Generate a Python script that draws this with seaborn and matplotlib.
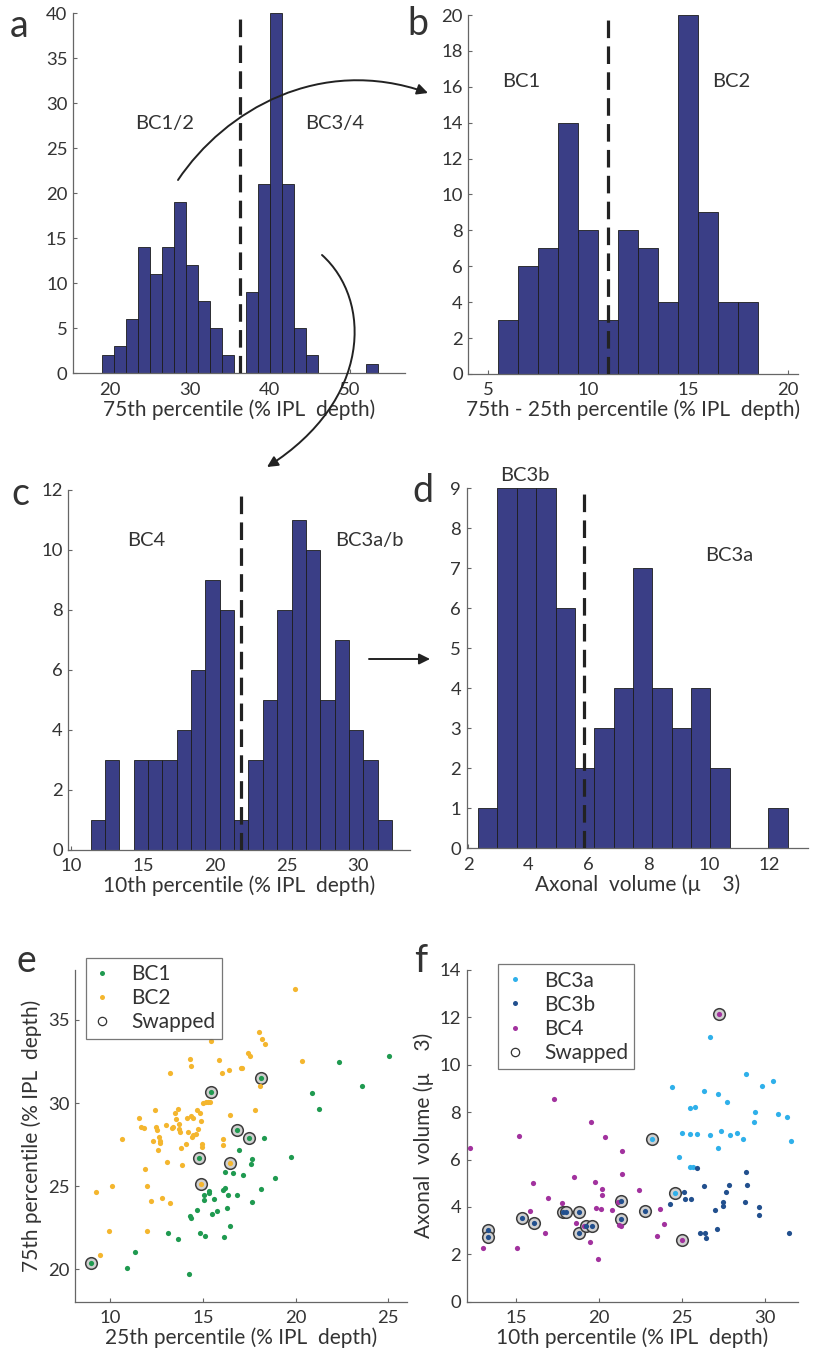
import numpy as np
import pandas as pd
import matplotlib.pyplot as plt
import seaborn as sns
from matplotlib.patches import FancyArrowPatch
from matplotlib.path import Path
from matplotlib.lines import Line2D

sns.set_style('ticks')
plt.rcParams['font.family'] = ['Lato', 'DejaVu Sans']
plt.rcParams['xtick.direction'] = 'in'
plt.rcParams['ytick.direction'] = 'in'

# ---- histogram data (counts per bin) ----
a_start, a_width = 19.08, 1.5
a_counts = [2, 3, 6, 14, 11, 14, 19, 12, 8, 5, 2, 0, 9, 21, 40, 21, 5, 2, 0, 0, 0, 0, 1]
a_split = 36.25

b_start, b_width = 5.5, 1.0
b_counts = [3, 6, 7, 14, 8, 3, 8, 7, 4, 20, 9, 4, 4]
b_split = 11.0

c_start, c_width = 11.35, 1.0
c_counts = [1, 3, 0, 3, 3, 3, 4, 6, 9, 8, 1, 3, 5, 8, 11, 10, 5, 7, 4, 3, 1]
c_split = 21.8

d_start, d_width = 2.33, 0.643
d_counts = [1, 9, 9, 9, 6, 2, 3, 4, 7, 4, 3, 4, 2, 0, 0, 1]
d_split = 5.85

# ---- scatter e: 25th vs 75th percentile ----
bc1_x = [25.05, 22.34, 23.56, 20.90, 21.26, 18.30, 19.75, 18.87, 18.16, 17.67, 17.62, 16.93,
         17.15, 16.65, 16.22, 16.18, 16.07, 16.34, 16.86, 15.77, 15.62, 15.51, 15.35, 15.34,
         15.05, 15.07, 14.67, 14.28, 14.35, 13.13, 13.66, 14.85, 15.10, 16.14, 16.47, 16.32,
         17.63, 11.33, 10.93, 14.24]
bc1_y = [32.85, 32.47, 31.01, 30.59, 29.62, 27.92, 26.74, 25.51, 24.81, 26.62, 26.34, 27.20,
         25.69, 25.77, 25.84, 24.91, 24.77, 24.45, 24.47, 23.53, 24.21, 23.31, 24.73, 24.61,
         24.45, 24.17, 23.57, 23.23, 23.11, 22.17, 21.84, 22.17, 22.01, 21.92, 22.63, 23.71,
         24.05, 21.02, 20.06, 19.72]
bc1_swap_x = [8.96, 14.81, 15.42, 16.83, 17.51, 18.12]
bc1_swap_y = [20.40, 26.72, 30.67, 28.40, 27.88, 31.53]

bc2_x = [19.97, 9.23, 9.43, 9.96, 10.11, 10.63, 11.53, 11.67, 11.80, 11.89, 12.01, 12.01,
         12.21, 12.32, 12.41, 12.46, 12.51, 12.60, 12.64, 12.66, 12.69, 12.82, 13.00, 13.07,
         13.22, 13.25, 13.32, 13.40, 13.48, 13.54, 13.68, 13.70, 13.72, 13.75, 13.81, 13.88,
         14.10, 14.13, 14.20, 14.31, 14.35, 14.37, 14.40, 14.44, 14.49, 14.62, 14.69, 14.74,
         14.85, 14.92, 14.96, 14.96, 15.03, 15.16, 15.28, 15.39, 15.44, 15.86, 16.02, 16.07,
         16.11, 16.43, 16.47, 17.04, 17.11, 17.45, 17.53, 17.80, 18.05, 18.19, 18.33, 18.08,
         20.33]
bc2_y = [36.88, 24.67, 20.86, 22.31, 25.03, 27.84, 29.12, 28.56, 28.48, 26.02, 25.03, 22.31,
         24.11, 27.70, 29.58, 28.58, 28.38, 27.18, 27.94, 27.58, 27.70, 24.31, 28.70, 26.46,
         31.79, 23.97, 28.48, 28.58, 29.38, 29.02, 29.65, 28.74, 28.42, 28.24, 27.32, 26.28,
         27.52, 29.08, 28.28, 32.63, 32.23, 29.22, 27.98, 28.08, 29.08, 28.12, 29.58, 28.42,
         29.38, 28.92, 27.56, 27.38, 29.99, 30.09, 30.09, 30.09, 33.70, 32.59, 31.79, 27.82,
         27.48, 31.99, 29.26, 32.09, 32.09, 33.03, 32.85, 29.60, 34.24, 33.84, 33.56, 31.03,
         32.55]
bc2_swap_x = [16.47, 14.89]
bc2_swap_y = [26.38, 25.13]

# ---- scatter f: 10th percentile vs axonal volume ----
bc3a_x = [26.65, 24.40, 26.31, 27.15, 28.86, 30.46, 29.82, 27.69, 25.48, 25.80, 29.42, 30.80,
          31.31, 29.30, 25.00, 25.44, 25.90, 26.65, 27.31, 27.91, 28.31, 28.69, 31.59, 27.15,
          24.80, 25.44, 25.64]
bc3a_y = [11.16, 9.08, 8.89, 8.75, 9.61, 9.33, 9.10, 8.44, 8.16, 8.23, 7.99, 7.91,
          7.81, 7.60, 7.11, 7.06, 7.06, 7.04, 7.20, 7.04, 7.11, 6.85, 6.78, 6.47,
          6.12, 5.70, 5.70]
bc3a_swap_x = [23.19, 24.54]
bc3a_swap_y = [6.87, 4.57]

bc3b_x = [25.88, 28.82, 26.31, 27.85, 28.90, 25.08, 27.65, 25.14, 25.56, 24.28, 27.45, 27.49,
          28.78, 26.99, 29.62, 29.62, 26.10, 26.35, 26.41, 27.11, 31.43]
bc3b_y = [5.63, 5.49, 4.88, 4.92, 4.92, 4.62, 4.62, 4.32, 4.32, 4.12, 4.22, 4.05,
          4.22, 3.87, 3.98, 3.66, 2.88, 2.88, 2.67, 3.05, 2.88]
bc3b_swap_x = [13.29, 13.29, 15.34, 16.06, 17.81, 18.01, 18.78, 18.78, 19.22, 19.54, 21.29,
               21.29, 22.77]
bc3b_swap_y = [3.03, 2.72, 3.52, 3.33, 3.80, 3.77, 3.80, 2.91, 3.19, 3.19, 4.26, 3.50, 3.83]

bc4_x = [12.23, 17.25, 19.52, 15.14, 20.32, 21.39, 21.39, 18.47, 16.00, 19.74, 20.18, 22.39,
         16.89, 20.18, 15.84, 17.77, 21.12, 19.82, 20.12, 20.78, 23.69, 18.61, 19.06, 21.20,
         21.31, 23.88, 16.75, 23.45, 19.44, 12.97, 15.04, 19.94]
bc4_y = [6.50, 8.57, 7.57, 7.01, 6.94, 6.37, 5.37, 5.25, 5.02, 5.05, 4.74, 4.71,
         4.36, 4.50, 3.84, 4.15, 4.22, 3.94, 3.91, 3.87, 3.91, 3.33, 3.19, 3.24,
         3.19, 3.26, 2.88, 2.79, 2.53, 2.25, 2.25, 1.79]
bc4_swap_x = [27.21, 24.96]
bc4_swap_y = [12.14, 2.60]

# ---- colours ----
bar_color = '#3a3e86'
green = '#1f9a50'
orange = '#f4b62e'
light_blue = '#2fb0ea'
dark_blue = '#22508e'
magenta = '#a2329e'
txt = '#333333'

TICK_FS = 13.3
LABEL_FS = 15
NOTE_FS = 14.5
LEG_FS = 15

fig = plt.figure(figsize=(8.2, 13.53), dpi=100)


def style(ax):
    sns.despine(ax=ax)
    for s in ['left', 'bottom']:
        ax.spines[s].set_color('#666666')
        ax.spines[s].set_linewidth(0.9)
    ax.tick_params(length=3, width=0.8, color='#666666', labelsize=TICK_FS, labelcolor=txt)
    ax.tick_params(axis='x', pad=6)
    ax.tick_params(axis='y', pad=4)
    ax.set_facecolor('none')


def hist_panel(rect, start, width, counts, split, xlim, ylim, xticks, yticks, xlabel):
    ax = fig.add_axes(rect)
    n = len(counts)
    edges = [start + width * i for i in range(n + 1)]
    df = pd.DataFrame({'center': [e + width / 2 for e in edges[:-1]], 'count': counts})
    sns.histplot(data=df, x='center', weights='count', bins=edges, color=bar_color,
                 edgecolor='#1c1c1c', linewidth=0.6, alpha=1, ax=ax)
    ax.plot([split, split], [0, ylim[1]], color='#222222', lw=2.3,
            linestyle=(0, (5.5, 2.6)), zorder=5)
    ax.set_xlim(*xlim)
    ax.set_ylim(*ylim)
    ax.set_xticks(xticks)
    ax.set_yticks(yticks)
    ax.set_ylabel('')
    ax.set_xlabel(xlabel, fontsize=LABEL_FS, color=txt, labelpad=1)
    style(ax)
    return ax


ax_a = hist_panel([0.0890, 0.7241, 0.4049, 0.2661], a_start, a_width, a_counts, a_split,
                  (15.4, 56.9), (0, 40), [20, 30, 40, 50], range(0, 41, 5),
                  '75th percentile (% IPL  depth)')
ax_a.text(26.9, 27.8, 'BC1/2', ha='center', va='center', fontsize=NOTE_FS, color=txt)
ax_a.text(48.1, 27.8, 'BC3/4', ha='center', va='center', fontsize=NOTE_FS, color=txt)

ax_b = hist_panel([0.5711, 0.7236, 0.4021, 0.2653], b_start, b_width, b_counts, b_split,
                  (4.0, 20.5), (0, 20), [5, 10, 15, 20], range(0, 21, 2),
                  '75th - 25th percentile (% IPL  depth)')
ax_b.text(6.67, 16.3, 'BC1', ha='center', va='center', fontsize=NOTE_FS, color=txt)
ax_b.text(17.17, 16.3, 'BC2', ha='center', va='center', fontsize=NOTE_FS, color=txt)

ax_c = hist_panel([0.0833, 0.3718, 0.4167, 0.2661], c_start, c_width, c_counts, c_split,
                  (9.8, 33.6), (0, 12), [10, 15, 20, 25, 30], range(0, 13, 2),
                  '10th percentile (% IPL  depth)')
ax_c.text(15.2, 10.3, 'BC4', ha='center', va='center', fontsize=NOTE_FS, color=txt)
ax_c.text(30.8, 10.3, 'BC3a/b', ha='center', va='center', fontsize=NOTE_FS, color=txt)

ax_d = hist_panel([0.5691, 0.3730, 0.4166, 0.2661], d_start, d_width, d_counts, d_split,
                  (1.95, 13.3), (0, 9), [2, 4, 6, 8, 10, 12], range(0, 10),
                  'Axonal  volume (µ    3)')
ax_d.text(3.87, 9.33, 'BC3b', ha='center', va='center', fontsize=NOTE_FS, color=txt,
          clip_on=False)
ax_d.text(10.68, 7.33, 'BC3a', ha='center', va='center', fontsize=NOTE_FS, color=txt)


def scatter_group(ax, x, y, sx, sy, color, label):
    sns.scatterplot(x=list(x) + list(sx), y=list(y) + list(sy), color=color, s=14,
                    linewidth=0, ax=ax, zorder=3)
    return Line2D([], [], ls='none', marker='o', ms=3.6, mfc=color, mec='none', label=label)


def swapped(ax, sx, sy):
    ax.scatter(sx, sy, s=70, facecolor='#d0d0d0', edgecolor='#3c3c3c', linewidth=1.1, zorder=2)


def framed_legend(ax, handles, anchor):
    leg = ax.legend(handles=handles, loc='upper left', bbox_to_anchor=anchor,
                    borderaxespad=0, fontsize=LEG_FS, frameon=True, fancybox=False,
                    handlelength=1.0, handletextpad=0.9, labelspacing=0.2, borderpad=0.3)
    leg.get_frame().set_edgecolor('#555555')
    leg.get_frame().set_linewidth(0.9)
    for t in leg.get_texts():
        t.set_color(txt)


hs = Line2D([], [], ls='none', marker='o', ms=6, mfc='none', mec='#333333', mew=0.9,
            label='Swapped')

# panel e
ax_e = fig.add_axes([0.0915, 0.0379, 0.4045, 0.2452])
swapped(ax_e, bc1_swap_x + bc2_swap_x, bc1_swap_y + bc2_swap_y)
h2 = scatter_group(ax_e, bc2_x, bc2_y, bc2_swap_x, bc2_swap_y, orange, 'BC2')
h1 = scatter_group(ax_e, bc1_x, bc1_y, bc1_swap_x, bc1_swap_y, green, 'BC1')
ax_e.set_xlim(8.1, 26.0)
ax_e.set_ylim(18.05, 38.0)
ax_e.set_xticks([10, 15, 20, 25])
ax_e.set_yticks([20, 25, 30, 35])
ax_e.set_xlabel('25th percentile (% IPL  depth)', fontsize=LABEL_FS, color=txt, labelpad=1)
ax_e.set_ylabel('75th percentile (% IPL  depth)', fontsize=LABEL_FS, color=txt, labelpad=4)
style(ax_e)
framed_legend(ax_e, [h1, h2, hs], (0.032, 1.037))

# panel f
ax_f = fig.add_axes([0.5691, 0.0379, 0.4044, 0.2452])
swapped(ax_f, bc3a_swap_x + bc3b_swap_x + bc4_swap_x, bc3a_swap_y + bc3b_swap_y + bc4_swap_y)
g4 = scatter_group(ax_f, bc4_x, bc4_y, bc4_swap_x, bc4_swap_y, magenta, 'BC4')
g3a = scatter_group(ax_f, bc3a_x, bc3a_y, bc3a_swap_x, bc3a_swap_y, light_blue, 'BC3a')
g3b = scatter_group(ax_f, bc3b_x, bc3b_y, bc3b_swap_x, bc3b_swap_y, dark_blue, 'BC3b')
ax_f.set_xlim(12.0, 32.0)
ax_f.set_ylim(0, 14)
ax_f.set_xticks([15, 20, 25, 30])
ax_f.set_yticks(range(0, 15, 2))
ax_f.set_xlabel('10th percentile (% IPL  depth)', fontsize=LABEL_FS, color=txt, labelpad=1)
ax_f.set_ylabel('Axonal  volume (µ    3)', fontsize=LABEL_FS, color=txt, labelpad=4)
style(ax_f)
framed_legend(ax_f, [g3a, g3b, g4, hs], (0.095, 1.017))

# panel letters
W, H = 820.0, 1353.0
for letter, px, py in [('a', 10, 37), ('b', 407, 35), ('c', 11, 505), ('d', 412, 502),
                       ('e', 17, 972), ('f', 414, 972)]:
    fig.text(px / W, 1 - py / H, letter, fontsize=27, color=txt, ha='left', va='baseline')


# connecting arrows (figure pixel coordinates, y from top)
def fig_arrow(points, codes):
    verts = [(x / W, 1 - y / H) for x, y in points]
    arr = FancyArrowPatch(path=Path(verts, codes), arrowstyle='-|>', mutation_scale=16,
                          lw=1.4, color='#222222', transform=fig.transFigure)
    fig.patches.append(arr)


cubic = [Path.MOVETO, Path.CURVE4, Path.CURVE4, Path.CURVE4]
fig_arrow([(178, 180), (225, 110), (320, 55), (428, 93)], cubic)
fig_arrow([(322, 255), (372, 300), (372, 400), (267, 467)], cubic)
fig_arrow([(369, 659), (430, 659)], [Path.MOVETO, Path.LINETO])

fig.savefig('out.png', dpi=100)
